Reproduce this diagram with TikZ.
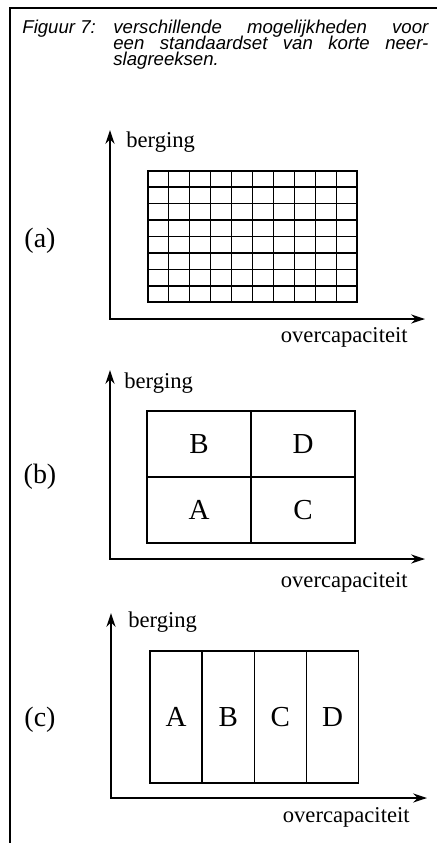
\documentclass[tikz,border=0pt]{standalone}
\usepackage{fontspec}
\setmainfont{Liberation Serif}
\newfontfamily\capfont{Liberation Sans}
\usetikzlibrary{arrows.meta,positioning,calc}
\tikzset{
  axes/.style={{Stealth[length=7pt,width=4.6pt]}-{Stealth[length=7pt,width=4.6pt]},line width=0.75pt},
  frameln/.style={line width=0.7pt},
  gridln/.style={line width=0.7pt},
  lbl/.style={font=\fontsize{11.3}{13}\selectfont,inner sep=0pt},
  tag/.style={font=\fontsize{14}{16}\selectfont,inner sep=0pt},
  cell/.style={draw,line width=0.75pt,inner sep=0pt,outer sep=0pt,
    font=\fontsize{14.5}{16}\selectfont},
  captxt/.style={font=\capfont\itshape\fontsize{9.3}{8}\selectfont,inner sep=0pt,anchor=base west},
}
\begin{document}
\begin{tikzpicture}[x=0.5pt,y=-0.5pt]
\useasboundingbox (0,0) rectangle (437,843);

% frame
\draw[frameln] (437,8) -| (10,843);

% caption
\node[captxt] (fig) at (22,33) {Figuur 7:};
\node[captxt] (cap1) at (113,33) {\hbox to 157.5pt{verschillende\hfill mogelijkheden\hfill voor}};
\node[captxt] (cap2) at (113,49) {\hbox to 157.5pt{een\hfill standaardset\hfill van\hfill korte\hfill neer-}};
\node[captxt] (cap3) at (113,65) {slagreeksen.};

% (a) fine grid
\coordinate (ya) at (110,130);
\coordinate (xa) at (425,319);
\draw[axes] (ya) |- (xa);
\node[lbl,anchor=base west] (bera) at ([shift={(16,17)}]ya) {berging};
\node[lbl,anchor=base east] (ova) at ([shift={(-17,23)}]xa) {overcapaciteit};
\node[tag] (taga) at (40,241) {(a)};
\node[draw,gridln,minimum width=104.5pt,minimum height=65.5pt,inner sep=0pt] (grid) at (252.5,236.5) {};
\foreach \i in {1,...,9}
  \draw[gridln] ($(grid.north west)!\i/10!(grid.north east)$) -- ($(grid.south west)!\i/10!(grid.south east)$);
\foreach \j in {1,...,7}
  \draw[gridln] ($(grid.north west)!\j/8!(grid.south west)$) -- ($(grid.north east)!\j/8!(grid.south east)$);

% (b) four quadrants
\coordinate (yb) at (110,370);
\coordinate (xb) at (425,559);
\draw[axes] (yb) |- (xb);
\node[lbl,anchor=base west] (berb) at ([shift={(14,18)}]yb) {berging};
\node[lbl,anchor=base east] (ovb) at ([shift={(-17,28)}]xb) {overcapaciteit};
\node[tag] (tagb) at (40,477) {(b)};
\tikzset{quad/.style={cell,minimum width=52pt,minimum height=33pt}}
\node[quad] (qB) at (199,444) {B};
\node[quad,right=0pt of qB] (qD) {D};
\node[quad,below=0pt of qB] (qA) {A};
\node[quad,right=0pt of qA] (qC) {C};

% (c) four strips
\coordinate (yc) at (111,613);
\coordinate (xc) at (427,798);
\draw[axes] (yc) |- (xc);
\node[lbl,anchor=base west] (berc) at ([shift={(17,14)}]yc) {berging};
\node[lbl,anchor=base east] (ovc) at ([shift={(-17,24)}]xc) {overcapaciteit};
\node[tag] (tagc) at (40,720) {(c)};
\tikzset{strip/.style={cell,minimum width=26.1pt,minimum height=66pt}}
\node[strip] (sA) at (176,717) {A};
\node[strip,right=0pt of sA] (sB) {B};
\node[strip,right=0pt of sB] (sC) {C};
\node[strip,right=0pt of sC] (sD) {D};
\end{tikzpicture}
\end{document}
